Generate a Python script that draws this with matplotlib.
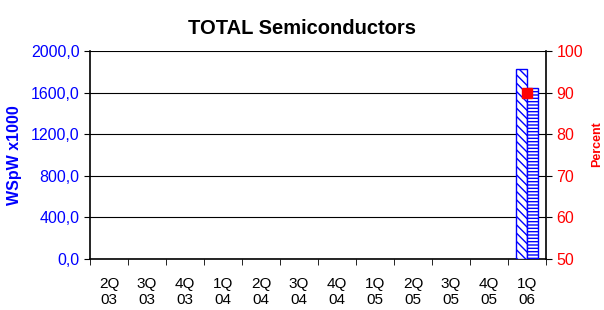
import numpy as np
import matplotlib.pyplot as plt

plt.rcParams['font.family'] = ['Liberation Sans', 'DejaVu Sans']
plt.rcParams['hatch.color'] = 'blue'

quarters = ['2Q\n03', '3Q\n03', '4Q\n03', '1Q\n04', '2Q\n04', '3Q\n04',
            '4Q\n04', '1Q\n05', '2Q\n05', '3Q\n05', '4Q\n05', '1Q\n06']
capacity = [np.nan] * 11 + [1825]
actual = [np.nan] * 11 + [1640]
utilization = [np.nan] * 11 + [90]

x = np.arange(len(quarters))
w = 0.29

fig = plt.figure(figsize=(6.04, 3.10), dpi=100)
ax = fig.add_axes([0.149, 0.1645, 0.755, 0.671])

ax.bar(x - w / 2, capacity, w, color='white', edgecolor='blue', hatch='\\\\\\\\', linewidth=1, zorder=3)
ax.bar(x + w / 2, actual, w, color='white', edgecolor='blue', hatch='-----', linewidth=1, zorder=3)

ax.set_xlim(-0.5, len(quarters) - 0.5)
ax.set_ylim(0, 2000)
ax.set_yticks(np.arange(0, 2001, 400))
ax.set_yticklabels([f'{v:.1f}'.replace('.', ',') for v in np.arange(0, 2001, 400)])
ax.yaxis.grid(True, color='black', linewidth=0.8)
ax.set_axisbelow(True)
ax.set_xticks(x)
ax.set_xticklabels(quarters, fontsize=11, linespacing=1.2)
ax.set_xticks(np.arange(-0.5, len(quarters)), minor=True)
ax.tick_params(axis='x', which='major', length=0, pad=13)
ax.tick_params(axis='x', which='minor', length=4, direction='out')
ax.tick_params(axis='y', labelsize=11.5, labelcolor='blue', length=4)
ax.set_ylabel('WSpW x1000', color='blue', fontsize=11.5, fontweight='bold', labelpad=6)
ax.spines['top'].set_visible(False)
ax.spines['right'].set_visible(False)
ax.spines['bottom'].set_linewidth(1.2)
ax.spines['left'].set_linewidth(1.2)

ax2 = ax.twinx()
ax2.plot(x, utilization, 's', color='red', markersize=7, zorder=5)
ax2.set_ylim(50, 100)
ax2.set_yticks(np.arange(50, 101, 10))
ax2.tick_params(axis='y', labelsize=11.5, labelcolor='red', length=4)
ax2.set_ylabel('Percent', color='red', fontsize=9, fontweight='bold')
ax2.yaxis.set_label_coords(1.1, 0.55)
for s in ['top', 'left', 'bottom']:
    ax2.spines[s].set_visible(False)
ax2.spines['right'].set_linewidth(1.2)

fig.suptitle('TOTAL Semiconductors', fontsize=14.5, fontweight='bold', y=0.94)

fig.savefig('out.png', dpi=100)
